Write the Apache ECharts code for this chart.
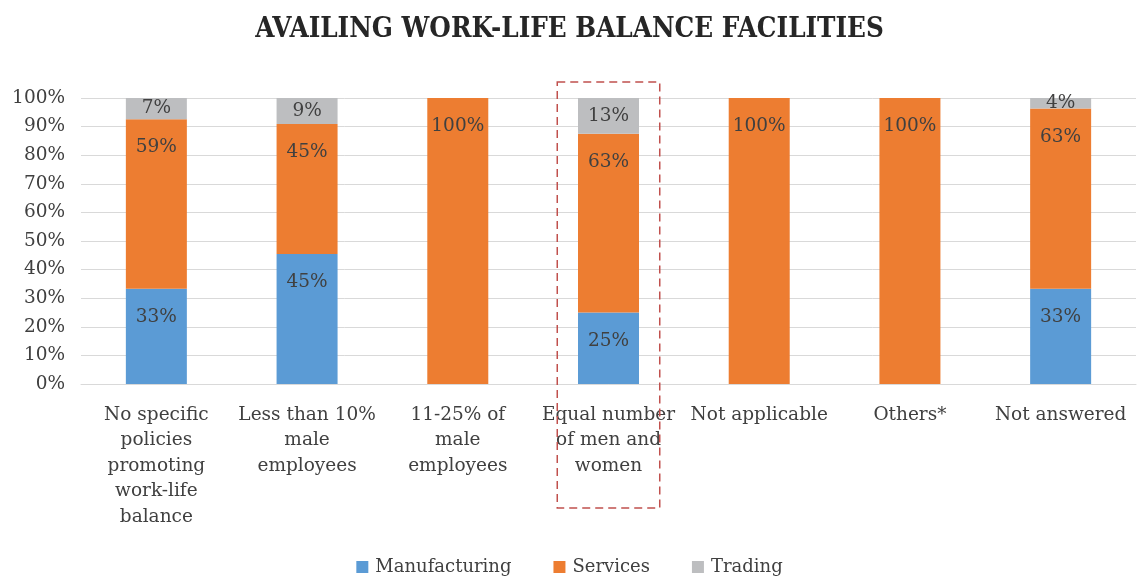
<!DOCTYPE html>
<html>
<head>
<meta charset="utf-8">
<script src="https://cdn.jsdelivr.net/npm/echarts@6/dist/echarts.min.js"></script>
<style>html,body{margin:0;padding:0;background:#fff}#c{width:1139px;height:576px}</style>
</head>
<body>
<div id="c"></div>
<script>
var categories = [
  "No specific\npolicies\npromoting\nwork-life\nbalance",
  "Less than 10%\nmale\nemployees",
  "11-25% of\nmale\nemployees",
  "Equal number\nof men and\nwomen",
  "Not applicable",
  "Others*",
  "Not answered"
];
var manufacturing = [33.3, 45.45, 0, 25, 0, 0, 33.3];
var services = [59.3, 45.45, 100, 62.5, 100, 100, 63.0];
var trading = [7.4, 9.1, 0, 12.5, 0, 0, 3.7];
var yTicks = [0, 10, 20, 30, 40, 50, 60, 70, 80, 90, 100];
var highlightIndex = 3;

var FONT = "'DejaVu Serif', serif";
function fmt(p) { return p.value > 0 ? Math.round(p.value) + '%' : ''; }
var labelTop = {
  show: true, position: 'insideTop', distance: 19,
  color: '#404040', fontFamily: FONT, fontSize: 18.5, formatter: fmt
};
var labelMid = {
  show: true, position: 'inside',
  color: '#404040', fontFamily: FONT, fontSize: 18.5, formatter: fmt
};

var chart = echarts.init(document.getElementById('c'), null, {renderer: 'canvas'});
var option = {
  animation: false,
  backgroundColor: '#fff',
  title: {
    text: 'AVAILING WORK-LIFE BALANCE FACILITIES',
    left: 'center',
    top: 11,
    textStyle: { fontFamily: "'DejaVu Serif Condensed', 'DejaVu Serif', serif", fontWeight: 'bold', fontSize: 27.5, color: '#262626' }
  },
  legend: {
    bottom: -5,
    left: 'center',
    icon: 'rect',
    itemWidth: 12,
    itemHeight: 12,
    itemGap: 42,
    textStyle: { fontFamily: FONT, fontSize: 18, color: '#404040', padding: [0, 0, 0, 2] },
    data: ['Manufacturing', 'Services', 'Trading']
  },
  grid: { left: 81, right: 3, top: 98, bottom: 192, containLabel: false },
  xAxis: {
    type: 'category',
    data: categories,
    axisLine: { show: true, lineStyle: { color: '#d9d9d9' } },
    axisTick: { show: false },
    axisLabel: { interval: 0, fontFamily: FONT, fontSize: 18.5, color: '#404040', lineHeight: 25.5, margin: 18 }
  },
  yAxis: {
    type: 'value',
    min: 0, max: 100, interval: 10,
    axisLine: { show: false },
    axisTick: { show: false },
    splitLine: { lineStyle: { color: '#d9d9d9', width: 1 } },
    axisLabel: { fontFamily: FONT, fontSize: 18.5, color: '#404040', margin: 16,
      formatter: function (v) { return yTicks.indexOf(v) >= 0 ? v + '%' : ''; } }
  },
  series: [
    { name: 'Manufacturing', type: 'bar', stack: 't', barWidth: 61, data: manufacturing, itemStyle: { color: '#5B9BD5' }, label: labelTop },
    { name: 'Services', type: 'bar', stack: 't', barWidth: 61, data: services, itemStyle: { color: '#ED7D31' }, label: labelTop },
    { name: 'Trading', type: 'bar', stack: 't', barWidth: 61, data: trading, itemStyle: { color: '#BDBEC0' }, label: labelMid }
  ]
};
chart.setOption(option);

// dashed highlight box around one category, positioned from the axis scale
var cx = chart.convertToPixel({ xAxisIndex: 0 }, highlightIndex);
var cx1 = chart.convertToPixel({ xAxisIndex: 0 }, highlightIndex + 1);
var bw = cx1 - cx;
var yTop = chart.convertToPixel({ yAxisIndex: 0 }, 100);
var yBot = chart.convertToPixel({ yAxisIndex: 0 }, 0);
chart.setOption({
  graphic: [{
    type: 'rect',
    shape: { x: cx - bw * 0.34, y: yTop - 16, width: bw * 0.68, height: (yBot - yTop) + 16 + 124 },
    style: { fill: 'none', stroke: '#C0504D', lineWidth: 1.5, lineDash: [8, 5] },
    z: 10
  }]
});
</script>
</body>
</html>
